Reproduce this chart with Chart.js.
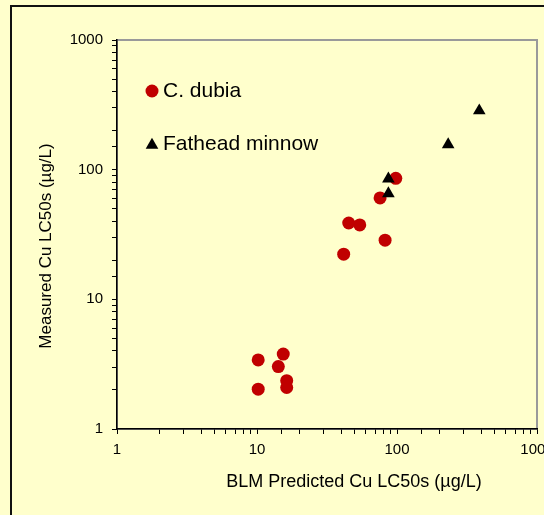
<!DOCTYPE html>
<html>
<head>
<meta charset="utf-8">
<script src="https://cdn.jsdelivr.net/npm/chart.js@4.4.1/dist/chart.umd.min.js"></script>
<style>
  html, body { margin: 0; padding: 0; background: #FFFFCC; overflow: hidden; width: 544px; height: 515px; }
  #frame { position: absolute; left: 10px; top: 5px; width: 700px; height: 700px; border-left: 2px solid #111; border-top: 2px solid #111; }
  #cv { position: absolute; left: 0; top: 0; }
</style>
</head>
<body>
<div id="frame"></div>
<canvas id="cv" width="600" height="515"></canvas>
<script>
// BLM predicted vs measured Cu LC50s (µg/L)
var cdubiaX = [10.2, 10.2, 14.2, 15.4, 16.3, 16.3, 41.6, 45.2, 54.2, 82.2, 75.7, 98.0];
var cdubiaY = [3.41, 2.03, 3.03, 3.78, 2.36, 2.09, 22.3, 38.8, 37.5, 28.6, 60.5, 85.7];
var minnowX = [86.8, 86.8, 232, 387];
var minnowY = [85.1, 65.3, 156, 285];

var seriesNames = ["C. dubia", "Fathead minnow"];
var xTitle = "BLM Predicted Cu LC50s (µg/L)";
var yTitle = "Measured Cu LC50s (µg/L)";
var axisMin = 1, axisMax = 1000;

var FONT = "'Liberation Sans', Arial, sans-serif";
var RED = "#C00000";

function toPoints(xs, ys) {
    var pts = [];
    for (var i = 0; i < xs.length; i++) pts.push({x: xs[i], y: ys[i]});
    return pts;
}

function decadeLabel(v) {
    var l = Math.log10(v);
    return Math.abs(l - Math.round(l)) < 1e-9 ? String(v) : "";
}

// grey frame on the top and right of the plot area
var plotFrame = {
    id: "plotFrame",
    beforeDraw: function(chart) {
        var a = chart.chartArea, ctx = chart.ctx;
        ctx.save();
        ctx.strokeStyle = "#9a9a9a";
        ctx.lineWidth = 2;
        ctx.strokeRect(a.left, a.top, a.right - a.left, a.bottom - a.top);
        ctx.restore();
    }
};

// axis titles and the in-plot legend
var labels = {
    id: "labels",
    afterDraw: function(chart) {
        var a = chart.chartArea, ctx = chart.ctx;
        ctx.save();
        ctx.fillStyle = "#000";
        ctx.textBaseline = "middle";

        ctx.font = "18px " + FONT;
        ctx.textAlign = "center";
        ctx.fillText(xTitle, a.left + 237, a.bottom + 53);

        ctx.font = "17px " + FONT;
        ctx.save();
        ctx.translate(46, a.top + 206);
        ctx.rotate(-Math.PI / 2);
        ctx.fillText(yTitle, 0, 0);
        ctx.restore();

        // legend
        var lx = a.left + 35;
        ctx.font = "21px " + FONT;
        ctx.textAlign = "left";

        ctx.fillStyle = RED;
        ctx.beginPath();
        ctx.arc(lx, a.top + 51, 6.5, 0, Math.PI * 2);
        ctx.fill();
        ctx.fillStyle = "#000";
        ctx.fillText(seriesNames[0], lx + 11, a.top + 51);

        var ty = a.top + 105, r = 7.3;
        ctx.beginPath();
        ctx.moveTo(lx, ty - r);
        ctx.lineTo(lx + r * Math.cos(Math.PI / 6), ty + r / 2);
        ctx.lineTo(lx - r * Math.cos(Math.PI / 6), ty + r / 2);
        ctx.closePath();
        ctx.fill();
        ctx.fillText(seriesNames[1], lx + 11, ty - 1);
        ctx.restore();
    }
};

function axis(pos, fitFn, pad) {
    return {
        type: "logarithmic",
        position: pos,
        min: axisMin,
        max: axisMax,
        afterFit: fitFn,
        border: { display: true, color: "#000", width: 1.5 },
        grid: { drawOnChartArea: false, drawTicks: true, tickLength: 5, tickColor: "#000", tickWidth: 1 },
        ticks: {
            autoSkip: false,
            maxRotation: 0,
            padding: pad,
            color: "#000",
            font: { family: FONT, size: 15 },
            callback: function(v) { return decadeLabel(v); }
        }
    };
}

new Chart(document.getElementById("cv"), {
    type: "scatter",
    data: {
        datasets: [
            {
                label: seriesNames[0],
                data: toPoints(cdubiaX, cdubiaY),
                pointStyle: "circle",
                pointRadius: 6.5,
                backgroundColor: RED,
                borderColor: RED,
                borderWidth: 0,
                order: 1
            },
            {
                label: seriesNames[1],
                data: toPoints(minnowX, minnowY),
                pointStyle: "triangle",
                pointRadius: 7.3,
                backgroundColor: "#000",
                borderColor: "#000",
                borderWidth: 0,
                order: 0
            }
        ]
    },
    options: {
        responsive: false,
        animation: false,
        devicePixelRatio: 1,
        layout: { padding: { left: 0, top: 40, right: 63, bottom: 0 } },
        plugins: { legend: { display: false }, tooltip: { enabled: false } },
        scales: {
            x: axis("bottom", function(s) { s.height = 86; }, 7),
            y: axis("left", function(s) { s.width = 117; }, 9)
        }
    },
    plugins: [plotFrame, labels]
});
</script>
</body>
</html>
